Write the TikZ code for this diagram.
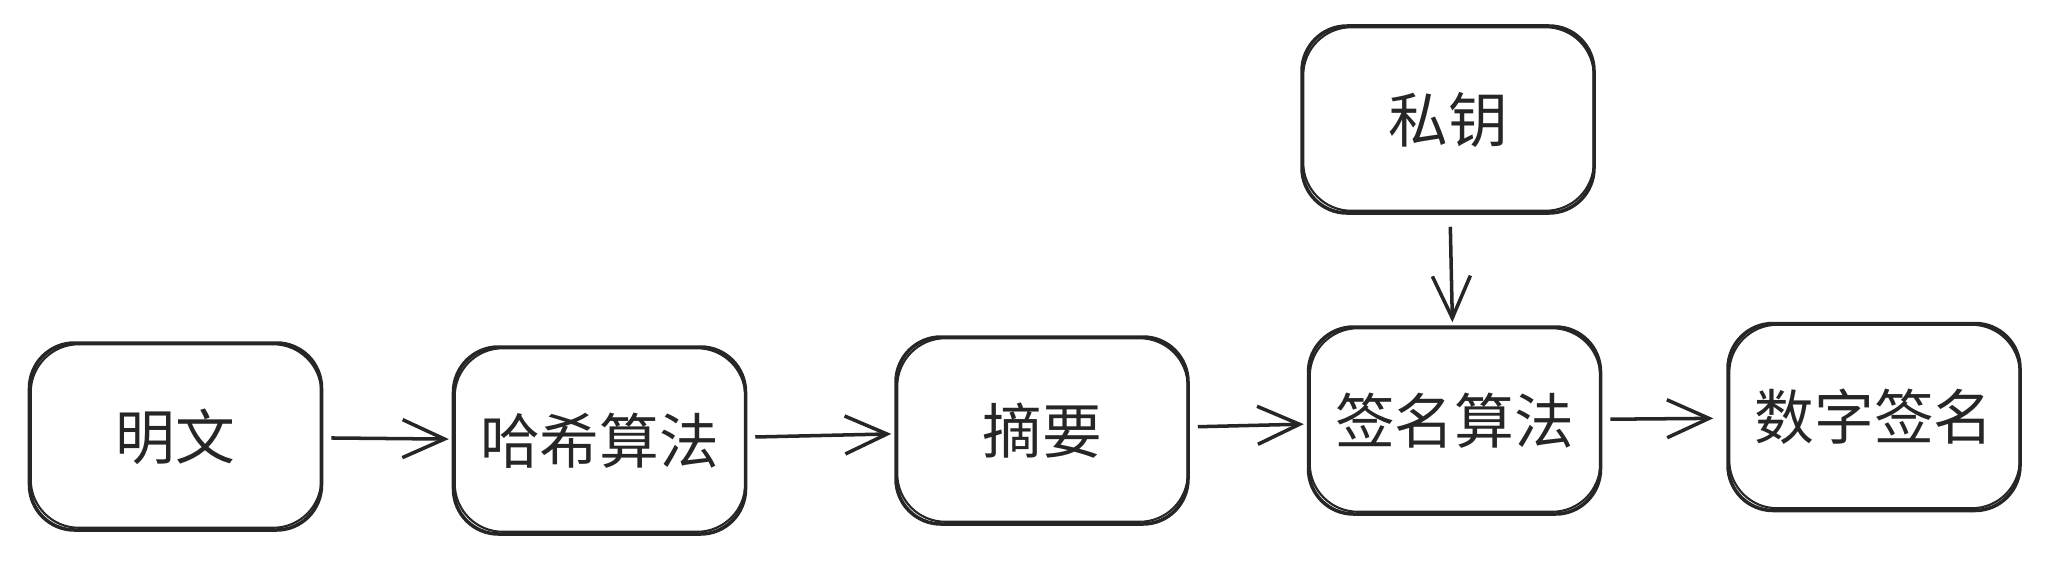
\documentclass[tikz,border=0pt]{standalone}
\usepackage{fontspec}
\newfontfamily\cjk{Noto Sans CJK SC}
\usetikzlibrary{arrows.meta}
\tikzset{
  blk/.style={draw=black!85, line width=1pt, rounded corners=4.5mm,
    minimum width=2.92cm, minimum height=1.87cm, inner sep=0pt,
    font=\cjk\fontsize{17}{20}\selectfont, text=black!85},
  flow/.style={draw=black!85, line width=1pt,
    -{Straight Barb[length=4.2mm,width=3.8mm,line width=1pt]},
    shorten <=0.8mm, shorten >=0.3mm}
}
\begin{document}
\begin{tikzpicture}
\useasboundingbox (0,0) rectangle (20.5,5.62);
\node[blk] (plain) at (1.755,1.255) {明文};
\node[blk] (hash) at (5.995,1.215) {哈希算法};
\node[blk] (digest) at (10.42,1.315) {摘要};
\node[blk] (signalg) at (14.545,1.415) {签名算法};
\node[blk] (sig) at (18.74,1.45) {数字签名};
\node[blk] (key) at (14.48,4.425) {私钥};
% second stroke for the hand drawn look
\foreach \n in {plain,hash,digest,signalg,sig,key}
  \draw[black!85, line width=0.6pt, rounded corners=4.8mm]
    ([shift={(0.03,0.04)}]\n.south west) rectangle ([shift={(-0.02,-0.03)}]\n.north east);
\draw[flow] (plain) -- (hash);
\draw[flow] (hash) -- (digest);
\draw[flow] (digest) -- (signalg);
\draw[flow, shorten >=1.3mm] (signalg) -- (sig);
\draw[flow, shorten <=1.2mm] (key) -- (signalg);
\end{tikzpicture}
\end{document}
